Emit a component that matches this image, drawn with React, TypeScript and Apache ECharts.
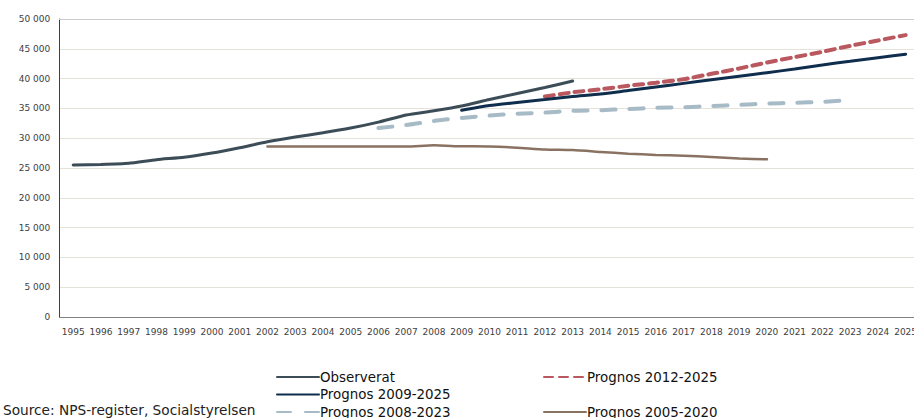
import React, { useEffect, useRef } from "react";
import * as echarts from "echarts";

const years: string[] = [];
for (let y = 1995; y <= 2025; y++) years.push(String(y));

const observerat = [25500, 25600, 25800, 26400, 26800, 27500, 28400, 29400, 30200, 30900, 31700, 32700, 33900, 34600, 35400, 36500, 37500, 38500, 39600, null, null, null, null, null, null, null, null, null, null, null, null];
const prognos2012 = [null, null, null, null, null, null, null, null, null, null, null, null, null, null, null, null, null, 37000, 37700, 38200, 38800, 39300, 39900, 40800, 41700, 42700, 43600, 44500, 45500, 46400, 47300];
const prognos2009 = [null, null, null, null, null, null, null, null, null, null, null, null, null, null, 34700, 35500, 36000, 36500, 37000, 37400, 38000, 38600, 39200, 39800, 40400, 41000, 41600, 42300, 42900, 43500, 44100];
const prognos2008 = [null, null, null, null, null, null, null, null, null, null, null, 31700, 32200, 32900, 33400, 33800, 34100, 34300, 34600, 34700, 34900, 35100, 35200, 35400, 35600, 35800, 35950, 36100, 36400, null, null];
const prognos2005 = [null, null, null, null, null, null, null, 28600, 28600, 28600, 28600, 28600, 28600, 28800, 28650, 28600, 28400, 28100, 28000, 27700, 27400, 27200, 27050, 26850, 26600, 26450, null, null, null, null, null];

const FONT = "DejaVu Sans";

export default function App() {
  const ref = useRef<HTMLDivElement>(null);
  useEffect(() => {
    if (!ref.current) return;
    const chart = echarts.init(ref.current, undefined, { renderer: "svg" });
    const line = (name: string, data: any[], color: string, width: number, type: any) => ({
      name,
      type: "line",
      data,
      symbol: "none",
      smooth: 0.2,
      connectNulls: false,
      lineStyle: { color, width, type, cap: "round" },
      itemStyle: { color },
    });
    const legendBase = {
      orient: "vertical",
      padding: 0,
      itemWidth: 42,
      itemHeight: 14,
      itemStyle: { opacity: 0 },
      textStyle: { fontSize: 13.4, color: "#111", fontFamily: FONT, lineHeight: 14, padding: [0, 0, 0, -4] },
    };
    chart.setOption({
      animation: false,
      textStyle: { fontFamily: FONT },
      grid: { left: 59.3, top: 19, right: 10.5, bottom: 101, outerBoundsMode: "none" },
      xAxis: [
        {
          type: "category",
          data: years,
          boundaryGap: true,
          axisLine: { lineStyle: { color: "#808080", width: 1 } },
          axisTick: { inside: true, length: 3, lineStyle: { color: "#808080" } },
          axisLabel: { color: "#404040", fontSize: 9, margin: 10, interval: 0, fontFamily: FONT },
          splitLine: { show: false },
        },
        {
          type: "category",
          data: years,
          position: "top",
          axisLine: { lineStyle: { color: "#cccccc", width: 1 } },
          axisTick: { show: false },
          axisLabel: { show: false },
        },
      ],
      yAxis: {
        type: "value",
        min: 0,
        max: 50000,
        interval: 5000,
        axisLine: { show: true, lineStyle: { color: "#404040", width: 1 } },
        axisTick: { show: false },
        axisLabel: {
          color: "#404040",
          fontSize: 9,
          margin: 9,
          fontFamily: FONT,
          formatter: (v: number) => (v === 0 ? "0" : String(v).replace(/(\d)(?=(\d{3})+$)/g, "$1 ")),
        },
        splitLine: { lineStyle: { color: "#e4e2d9", width: 1 } },
      },
      legend: [
        {
          ...legendBase,
          left: 276,
          top: 370,
          height: 60,
          itemGap: 3.5,
          data: ["Observerat", "Prognos 2009-2025", "Prognos 2008-2023"],
        },
        {
          ...legendBase,
          left: 543,
          top: 370,
          height: 60,
          itemGap: 21,
          data: ["Prognos 2012-2025", "Prognos 2005-2020"],
        },
      ],
      graphic: [
        {
          type: "text",
          left: 3,
          top: 403,
          style: { text: "Source: NPS-register, Socialstyrelsen", fontSize: 13.7, fill: "#222", fontFamily: FONT },
        },
      ],
      series: [
        line("Observerat", observerat, "#3c4d58", 3, "solid"),
        line("Prognos 2012-2025", prognos2012, "#b9585e", 4, [9, 6]),
        line("Prognos 2009-2025", prognos2009, "#0f2d4c", 3, "solid"),
        line("Prognos 2008-2023", prognos2008, "#a7bbc7", 4, [14, 14]),
        line("Prognos 2005-2020", prognos2005, "#8a7263", 2.5, "solid"),
      ],
    });
    return () => chart.dispose();
  }, []);
  return (
    <div style={{ position: "fixed", left: 0, top: 0, width: 914, height: 418, overflow: "hidden", background: "#fff" }}>
      <div ref={ref} style={{ width: 930, height: 418 }} />
    </div>
  );
}
